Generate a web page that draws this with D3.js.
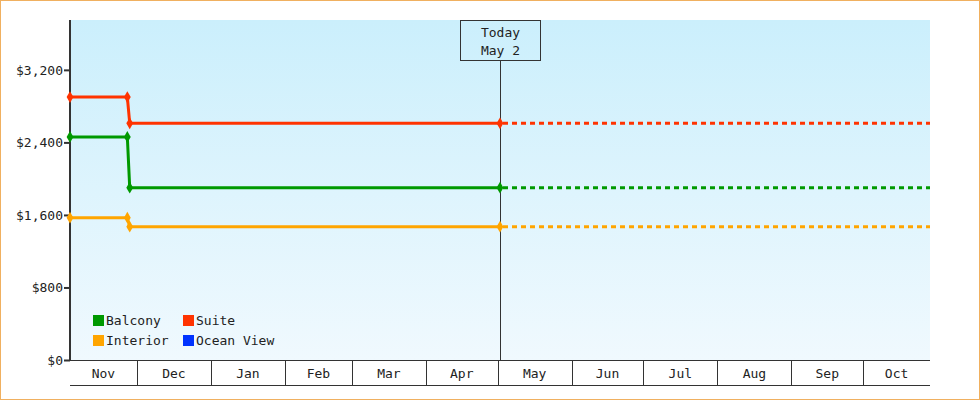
<!DOCTYPE html>
<html><head><meta charset="utf-8">
<script src="https://cdn.jsdelivr.net/npm/d3@7"></script>
<style>body{margin:0;background:#fff}svg{display:block}text{font-family:"DejaVu Sans Mono",monospace;font-size:13px;fill:#222}</style>
</head><body><svg id="c" width="980" height="400"></svg>
<script>
const seriesNames=["Balcony","Suite","Interior","Ocean View"];
const seriesColors=["#009900","#ff3300","#ffa500","#0033ff"];
const dates=["2024-11-03","2024-11-27","2024-11-28","2025-05-02"];
const balcony=[2460,2460,1900,1900];
const suite=[2900,2900,2610,2610];
const interior=[1570,1570,1470,1470];
const oceanView=[];
const yTicks=[0,800,1600,2400,3200];
const startDate="2024-11-03", endDate="2025-10-29", todayDate="2025-05-02";
const monthLabels=["Nov","Dec","Jan","Feb","Mar","Apr","May","Jun","Jul","Aug","Sep","Oct"];

const p=d3.timeParse("%Y-%m-%d");
const svg=d3.select("#c");
svg.append("rect").attr("x",0.5).attr("y",0.5).attr("width",979).attr("height",399).attr("fill","#fff").attr("stroke","#f0b060");
const L=70,R=930,T=20,B=360;
const x=d3.scaleTime().domain([p(startDate),p(endDate)]).range([L,R]);
const y=d3.scaleLinear().domain([0,3750]).range([B,T]);
const g=svg.append("defs").append("linearGradient").attr("id","bg").attr("x1",0).attr("y1",0).attr("x2",0).attr("y2",1);
g.append("stop").attr("offset","0").attr("stop-color","#cbeffc");
g.append("stop").attr("offset","1").attr("stop-color","#f0f9fe");
svg.append("rect").attr("x",L).attr("y",T).attr("width",R-L).attr("height",B-T).attr("fill","url(#bg)");
// y axis
const ya=svg.append("g").attr("transform",`translate(${L},0)`).call(d3.axisLeft(y).tickValues(yTicks).tickSize(6).tickFormat(d=>"$"+d3.format(",")(d)));
ya.select(".domain").attr("stroke","#333").attr("stroke-width",2).attr("d",`M0,${T}V${B}`);
ya.selectAll(".tick line").attr("stroke","#333").attr("stroke-width",2);
ya.selectAll(".tick text").attr("x",-7).style("font-family","DejaVu Sans Mono").style("font-size","13px").attr("fill","#222");
// month band axis
const months=d3.timeMonth.range(d3.timeMonth.floor(p(startDate)),p(endDate));
const edges=months.map((m,i)=>i==0?p(startDate):m).concat([p(endDate)]);
const ma=svg.append("g");
ma.append("line").attr("x1",L).attr("x2",R).attr("y1",B+0.5).attr("y2",B+0.5).attr("stroke","#333");
ma.append("line").attr("x1",L).attr("x2",R).attr("y1",385.5).attr("y2",385.5).attr("stroke","#333");
edges.slice(1,-1).forEach(e=>ma.append("line").attr("x1",Math.round(x(e))+0.5).attr("x2",Math.round(x(e))+0.5).attr("y1",B).attr("y2",385).attr("stroke","#333"));
monthLabels.forEach((m,i)=>ma.append("text").attr("x",(x(edges[i])+x(edges[i+1]))/2).attr("y",378).attr("text-anchor","middle").text(m));
// today
const tx=Math.round(x(p(todayDate)))+0.5;
svg.append("line").attr("x1",tx).attr("x2",tx).attr("y1",61).attr("y2",B).attr("stroke","#333");
svg.append("rect").attr("x",tx-40).attr("y",20.5).attr("width",80).attr("height",40).attr("fill","none").attr("stroke","#333");
svg.append("text").attr("x",tx).attr("y",37).attr("text-anchor","middle").text("Today");
svg.append("text").attr("x",tx).attr("y",55).attr("text-anchor","middle").text("May 2");
// series
const data=[balcony,suite,interior,oceanView];
data.forEach((vals,si)=>{
  if(!vals.length)return;
  const pts=vals.map((v,i)=>[p(dates[i]),v]);
  const line=d3.line().x(d=>x(d[0])).y(d=>y(d[1]));
  svg.append("path").attr("d",line(pts)).attr("fill","none").attr("stroke",seriesColors[si]).attr("stroke-width",3);
  const last=pts[pts.length-1];
  svg.append("path").attr("d",line([last,[p(endDate),last[1]]])).attr("fill","none").attr("stroke",seriesColors[si]).attr("stroke-width",3).attr("stroke-dasharray","5,4").attr("stroke-dashoffset",-3);
  pts.forEach(d=>svg.append("path").attr("d",d3.symbol(d3.symbolDiamond,40)()).attr("transform",`translate(${x(d[0])},${y(d[1])})`).attr("fill",seriesColors[si]));
});
// legend
seriesNames.forEach((n,i)=>{
  const lx=93+(i%2)*90, ly=315+Math.floor(i/2)*20;
  svg.append("rect").attr("x",lx).attr("y",ly).attr("width",11).attr("height",11).attr("fill",seriesColors[i]);
  svg.append("text").attr("x",lx+13).attr("y",ly+10).text(n);
});
</script></body></html>
